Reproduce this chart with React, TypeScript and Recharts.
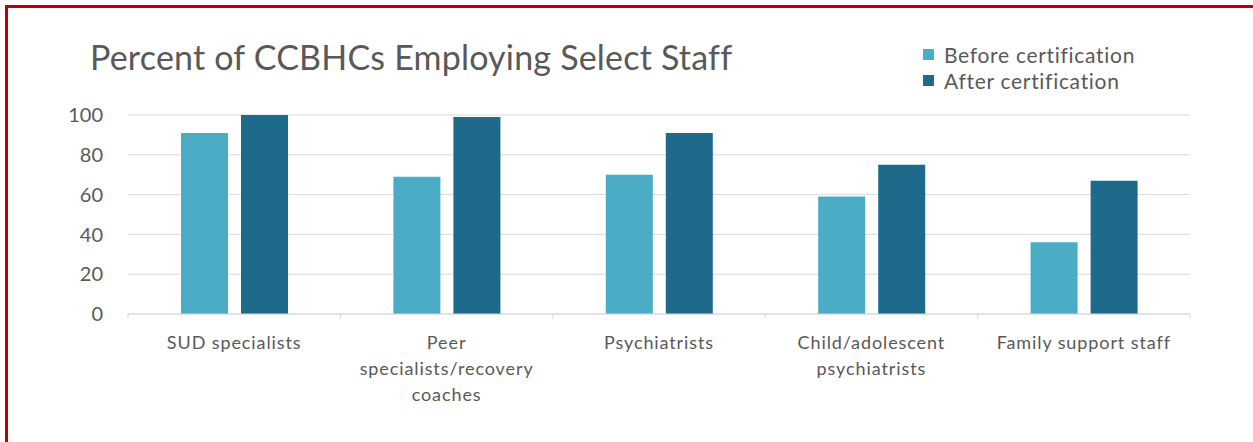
import React from 'react';
import { BarChart, Bar, XAxis, YAxis, CartesianGrid } from 'recharts';

const categories = [
  'SUD specialists',
  'Peer specialists/recovery coaches',
  'Psychiatrists',
  'Child/adolescent psychiatrists',
  'Family support staff',
];
// how each category label wraps on the axis
const tickLabelLines = [
  ['SUD specialists'],
  ['Peer', 'specialists/recovery', 'coaches'],
  ['Psychiatrists'],
  ['Child/adolescent', 'psychiatrists'],
  ['Family support staff'],
];
const beforeValues = [91, 69, 70, 59, 36];
const afterValues = [100, 99, 91, 75, 67];
const seriesNames = ['Before certification', 'After certification'];
const yTicks = [0, 20, 40, 60, 80, 100];

const BEFORE_COLOR = '#4BACC6';
const AFTER_COLOR = '#1D6A8A';
const TEXT_COLOR = '#595959';
const GRID_COLOR = '#D9D9D9';
const FONT = 'Lato, "Open Sans", sans-serif';

const data = categories.map((name, i) => ({
  name,
  before: beforeValues[i],
  after: afterValues[i],
}));

const CategoryTick = (props: any) => {
  const { x, y, payload, index, visibleTicksCount } = props;
  const half = payload?.offset ?? 106;
  const axisY = y - 22;
  const idx = categories.indexOf(payload.value);
  const lines = idx >= 0 ? tickLabelLines[idx] : [payload.value];
  return (
    <g>
      <line x1={x - half} x2={x - half} y1={axisY} y2={axisY + 5} stroke={GRID_COLOR} />
      {index === visibleTicksCount - 1 && (
        <line x1={x + half} x2={x + half} y1={axisY} y2={axisY + 5} stroke={GRID_COLOR} />
      )}
      <text
        x={x}
        y={y}
        textAnchor="middle"
        fill={TEXT_COLOR}
        style={{ fontFamily: FONT, fontSize: 18, letterSpacing: 0.9 }}
      >
        {lines.map((line: string, i: number) => (
          <tspan key={i} x={x} dy={i === 0 ? 13 : 26}>
            {line}
          </tspan>
        ))}
      </text>
    </g>
  );
};

export default function App() {
  return (
    <div
      style={{
        position: 'absolute',
        left: 0,
        top: 0,
        width: 1253,
        height: 442,
        overflow: 'hidden',
        background: '#fff',
        fontFamily: FONT,
      }}
    >
      <div
        style={{
          position: 'absolute',
          left: 5,
          top: 5,
          width: 1300,
          height: 500,
          borderTop: '3px solid #C00000',
          borderLeft: '3px solid #C00000',
        }}
      />
      <div
        style={{
          position: 'absolute',
          left: 90,
          top: 40,
          fontSize: 34,
          lineHeight: '34px',
          letterSpacing: 0.2,
          color: TEXT_COLOR,
          whiteSpace: 'nowrap',
        }}
      >
        Percent of CCBHCs Employing Select Staff
      </div>
      <div
        style={{
          position: 'absolute',
          left: 923,
          top: 41,
          color: TEXT_COLOR,
          fontSize: 21,
          letterSpacing: 0.7,
        }}
      >
        {seriesNames.map((s, i) => (
          <div key={s} style={{ display: 'flex', alignItems: 'center', height: 26 }}>
            <span
              style={{
                display: 'inline-block',
                width: 11,
                height: 11,
                marginRight: 10,
                background: i === 0 ? BEFORE_COLOR : AFTER_COLOR,
              }}
            />
            {s}
          </div>
        ))}
      </div>
      <div style={{ position: 'absolute', left: 0, top: 0 }}>
        <BarChart
          width={1253}
          height={442}
          data={data}
          margin={{ top: 115, right: 63, left: 68, bottom: 28 }}
          barSize={47}
          barGap={13}
        >
          <CartesianGrid vertical={false} stroke={GRID_COLOR} />
          <XAxis
            dataKey="name"
            height={100}
            axisLine={{ stroke: GRID_COLOR }}
            tickLine={false}
            tickSize={0}
            tickMargin={22}
            interval={0}
            tick={<CategoryTick />}
          />
          <YAxis
            width={60}
            domain={[0, 100]}
            ticks={yTicks}
            axisLine={false}
            tickLine={false}
            tickSize={0}
            tickMargin={25}
            tick={{ fill: TEXT_COLOR, fontSize: 20, fontFamily: FONT }}
          />
          <Bar dataKey="before" name={seriesNames[0]} fill={BEFORE_COLOR} isAnimationActive={false} />
          <Bar dataKey="after" name={seriesNames[1]} fill={AFTER_COLOR} isAnimationActive={false} />
        </BarChart>
      </div>
    </div>
  );
}
